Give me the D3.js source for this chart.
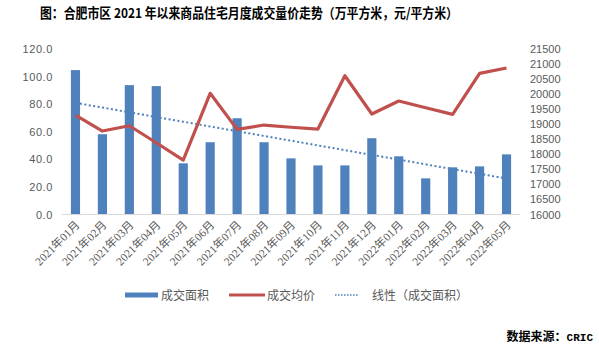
<!DOCTYPE html>
<html>
<head>
<meta charset="utf-8">
<script src="https://cdn.jsdelivr.net/npm/d3@7"></script>
<style>
  body { margin: 0; background: #fff; }
  svg { display: block; font-family: "Noto Sans CJK SC", "Noto Sans", sans-serif; }
</style>
</head>
<body>
<svg id="chart" width="599" height="352"></svg>
<script>
// data
const months = [
  '2021年01月', '2021年02月', '2021年03月', '2021年04月', '2021年05月', '2021年06月',
  '2021年07月', '2021年08月', '2021年09月', '2021年10月', '2021年11月', '2021年12月',
  '2022年01月', '2022年02月', '2022年03月', '2022年04月', '2022年05月'
];
const area = [104.7, 58.2, 93.8, 93.1, 37.1, 52.4, 69.8, 52.4, 40.7, 35.6, 35.6, 55.3, 42.2, 26.2, 34.2, 34.9, 43.6];
const price = [19306, 18774, 18950, 18385, 17810, 20027, 18830, 18973, 18900, 18840, 20612, 19339, 19771, 19548, 19329, 20691, 20867];
const leftTicks = [0, 20, 40, 60, 80, 100, 120];
const rightTicks = d3.range(16000, 21501, 500);

const colors = {
  bar: '#4F81BD',
  line: '#C0504D',
  text: '#595959',
  axis: '#D9D9D9'
};

const margin = {top: 49, bottom: 137.5, left: 62, right: 79};
const W = 599, H = 352;

const svg = d3.select('#chart');

const x = d3.scaleBand()
  .domain(months)
  .range([margin.left, W - margin.right])
  .paddingInner(0.66)
  .paddingOuter(0.33);

const xc = d3.scalePoint()
  .domain(months)
  .range([margin.left, W - margin.right])
  .padding(0.5);

const yL = d3.scaleLinear().domain([0, 120]).range([H - margin.bottom, margin.top]);
const yR = d3.scaleLinear().domain([16000, 21500]).range([H - margin.bottom, margin.top]);

// title
svg.append('text')
  .attr('x', 40)
  .attr('y', 18)
  .attr('font-size', 13.5)
  .attr('font-weight', 'bold')
  .attr('fill', '#000')
  .attr('textLength', 418)
  .attr('lengthAdjust', 'spacingAndGlyphs')
  .text('图：合肥市区 2021 年以来商品住宅月度成交量价走势（万平方米，元/平方米）');

// left axis
const gL = svg.append('g')
  .attr('transform', `translate(${margin.left - 6},0)`)
  .call(d3.axisLeft(yL).tickValues(leftTicks).tickSize(0).tickFormat(d3.format('.1f')));
gL.select('.domain').remove();
gL.selectAll('text').attr('fill', colors.text).attr('font-size', 11)
  .attr('font-family', '"Liberation Sans", sans-serif').attr('letter-spacing', 0.6);

// right axis
const gR = svg.append('g')
  .attr('transform', `translate(${W - margin.right + 7},0)`)
  .call(d3.axisRight(yR).tickValues(rightTicks).tickSize(0).tickFormat(d3.format('d')));
gR.select('.domain').remove();
gR.selectAll('text').attr('fill', colors.text).attr('font-size', 11).attr('font-family', '"Liberation Sans", sans-serif');

// bars
svg.append('g').selectAll('rect')
  .data(area)
  .join('rect')
  .attr('x', (d, i) => x(months[i]))
  .attr('width', x.bandwidth())
  .attr('y', d => yL(d))
  .attr('height', d => yL(0) - yL(d))
  .attr('fill', colors.bar);

// baseline
svg.append('line')
  .attr('x1', margin.left).attr('x2', W - margin.right)
  .attr('y1', yL(0)).attr('y2', yL(0))
  .attr('stroke', colors.axis);

// x labels
svg.append('g').selectAll('text')
  .data(months)
  .join('text')
  .attr('transform', d => `translate(${xc(d) + 5},${yL(0) + 11}) rotate(-45)`)
  .attr('text-anchor', 'end')
  .attr('font-size', 11.5)
  .attr('font-family', '"Liberation Serif", "Noto Sans CJK SC", serif')
  .attr('fill', colors.text)
  .text(d => d);

// linear trend of area
const mx = d3.mean(area, (d, i) => i);
const my = d3.mean(area);
const slope = d3.sum(area, (d, i) => (i - mx) * (d - my)) / d3.sum(area, (d, i) => (i - mx) ** 2);
const trend = area.map((d, i) => my + slope * (i - mx));

svg.append('path')
  .datum(trend)
  .attr('fill', 'none')
  .attr('stroke', colors.bar)
  .attr('stroke-width', 2)
  .attr('stroke-dasharray', '2,2.5')
  .attr('d', d3.line().x((d, i) => xc(months[i])).y(d => yL(d)));

// price line
svg.append('path')
  .datum(price)
  .attr('fill', 'none')
  .attr('stroke', colors.line)
  .attr('stroke-width', 3.2)
  .attr('stroke-linejoin', 'round')
  .attr('d', d3.line().x((d, i) => xc(months[i])).y(d => yR(d)));

// legend
const legend = svg.append('g').attr('font-size', 12).attr('fill', colors.text);
const ly = 295;
legend.append('line').attr('x1', 125).attr('x2', 158).attr('y1', ly).attr('y2', ly)
  .attr('stroke', colors.bar).attr('stroke-width', 5);
legend.append('text').attr('x', 161).attr('y', ly + 4.5).attr('fill', colors.text).text('成交面积');
legend.append('line').attr('x1', 229).attr('x2', 265).attr('y1', ly).attr('y2', ly)
  .attr('stroke', colors.line).attr('stroke-width', 3);
legend.append('text').attr('x', 267).attr('y', ly + 4.5).attr('fill', colors.text).text('成交均价');
legend.append('line').attr('x1', 335).attr('x2', 358).attr('y1', ly).attr('y2', ly)
  .attr('stroke', colors.bar).attr('stroke-width', 1.5).attr('stroke-dasharray', '1.5,1.5');
legend.append('text').attr('x', 372).attr('y', ly + 4.5).attr('fill', colors.text).text('线性（成交面积）');

// source
const src = svg.append('text')
  .attr('x', 593)
  .attr('y', 341)
  .attr('text-anchor', 'end')
  .attr('font-size', 12)
  .attr('font-weight', 'bold')
  .attr('fill', '#000');
src.append('tspan').text('数据来源：');
src.append('tspan').attr('font-family', '"Liberation Mono", monospace').attr('font-size', 11).text('CRIC');
</script>
</body>
</html>
